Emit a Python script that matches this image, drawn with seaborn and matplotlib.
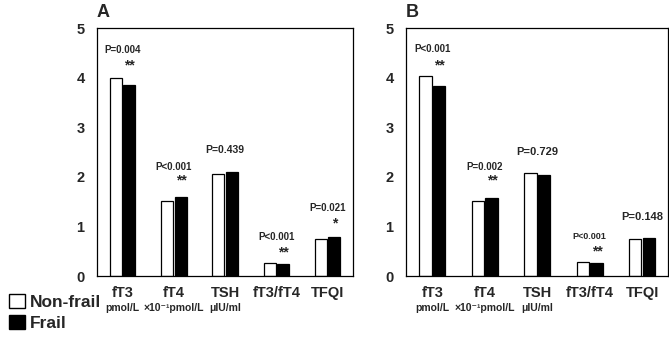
import pandas as pd
import matplotlib.pyplot as plt
import seaborn as sns
from matplotlib.patches import Patch

# Data
categories = ['fT3', 'fT4', 'TSH', 'fT3/fT4', 'TFQI']
units = ['pmol/L', '×10⁻¹pmol/L', 'μIU/ml', '', '']
groups = ['Non-frail', 'Frail']

a_nonfrail = [4.00, 1.51, 2.05, 0.27, 0.74]
a_frail = [3.86, 1.59, 2.09, 0.25, 0.78]
a_pvals = ['P=0.004', 'P<0.001', 'P=0.439', 'P<0.001', 'P=0.021']
a_stars = ['**', '**', '', '**', '*']

b_nonfrail = [4.04, 1.52, 2.07, 0.29, 0.75]
b_frail = [3.83, 1.58, 2.03, 0.26, 0.77]
b_pvals = ['P<0.001', 'P=0.002', 'P=0.729', 'P<0.001', 'P=0.148']
b_stars = ['**', '**', '', '**', '']

# label heights (data units) for the p-values and stars
a_p_y = [4.45, 2.10, 2.45, 0.68, 1.28]
a_s_y = [4.10, 1.78, 0, 0.34, 0.93]
b_p_y = [4.47, 2.10, 2.40, 0.70, 1.10]
b_s_y = [4.10, 1.78, 0, 0.36, 0]
b_p_size = [7, 7, 8, 6.5, 8]
a_p_size = [7, 7, 7.5, 7, 7]

sns.set_style('white')
plt.rcParams['font.family'] = ['Liberation Sans', 'Noto Sans CJK JP', 'DejaVu Sans']
plt.rcParams['font.weight'] = 'bold'


def make_df(nonfrail, frail):
    rows = []
    for c, v in zip(categories, nonfrail):
        rows.append({'cat': c, 'group': 'Non-frail', 'value': v})
    for c, v in zip(categories, frail):
        rows.append({'cat': c, 'group': 'Frail', 'value': v})
    return pd.DataFrame(rows)


def draw_panel(ax, df, pvals, stars, p_y, s_y, p_size, letter):
    sns.barplot(data=df, x='cat', y='value', hue='group', hue_order=groups,
                palette={'Non-frail': 'white', 'Frail': 'black'},
                edgecolor='black', linewidth=0.9, width=0.52, gap=0.1,
                legend=False, ax=ax)
    ax.set_xlim(-0.5, 4.5)
    ax.set_ylim(0, 5)
    ax.set_yticks([0, 1, 2, 3, 4, 5])
    ax.set_yticklabels(['0', '1', '2', '3', '4', '5'], fontsize=10.5, fontweight='bold')
    ax.set_xticks(range(len(categories)))
    ax.set_xticklabels(categories, fontsize=10.5, fontweight='bold')
    ax.tick_params(axis='x', length=0, pad=7)
    ax.tick_params(axis='y', length=0, pad=9)
    ax.set_xlabel('')
    ax.set_ylabel('')
    for s in ax.spines.values():
        s.set_visible(True)
        s.set_color('black')
        s.set_linewidth(0.9)
    for i, u in enumerate(units):
        if u:
            ax.text(i, -0.55, u, ha='center', va='top', fontsize=7.5,
                    fontweight='bold', clip_on=False)
    for i in range(len(categories)):
        ax.text(i, p_y[i], pvals[i], ha='center', va='bottom',
                fontsize=p_size[i], fontweight='bold')
        if stars[i]:
            ax.text(i + 0.14, s_y[i], stars[i], ha='center', va='bottom',
                    fontsize=10, fontweight='bold')
    ax.text(0, 1.03, letter, transform=ax.transAxes, ha='left', va='bottom',
            fontsize=13, fontweight='bold')


fig = plt.figure(figsize=(6.69, 3.40), dpi=100)
ax_a = fig.add_axes([0.145, 0.188, 0.383, 0.729])
ax_b = fig.add_axes([0.607, 0.188, 0.392, 0.729])

draw_panel(ax_a, make_df(a_nonfrail, a_frail), a_pvals, a_stars, a_p_y, a_s_y, a_p_size, 'A')
draw_panel(ax_b, make_df(b_nonfrail, b_frail), b_pvals, b_stars, b_p_y, b_s_y, b_p_size, 'B')

handles = [Patch(facecolor='white', edgecolor='black', label='Non-frail'),
           Patch(facecolor='black', edgecolor='black', label='Frail')]
fig.legend(handles=handles, loc='lower left', bbox_to_anchor=(-0.01, -0.02),
           frameon=False, prop={'size': 12.5, 'weight': 'bold'},
           handlelength=0.9, handleheight=0.9, handletextpad=0.3,
           labelspacing=0.3)

fig.savefig('out.png', dpi=100)
